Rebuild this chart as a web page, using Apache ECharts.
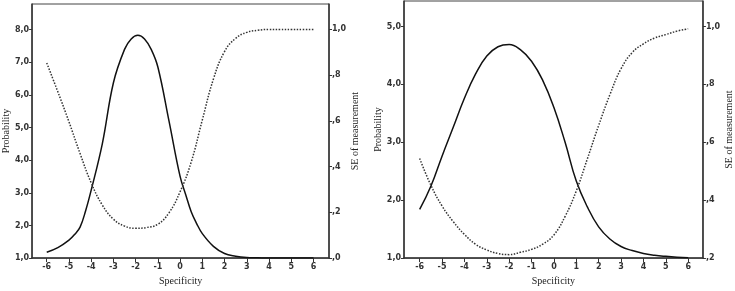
<!DOCTYPE html>
<html>
<head>
<meta charset="utf-8">
<script src="https://cdn.jsdelivr.net/npm/echarts@6/dist/echarts.min.js"></script>
<style>
  html, body { margin: 0; padding: 0; background: #fff; }
  #main { width: 735px; height: 291px; }
</style>
</head>
<body>
<div id="main"></div>
<script>
// specificity grid used by the SE curves and the right panel
var specificity = [-6, -5.5, -5, -4.5, -4, -3.5, -3, -2.5, -2, -1.5, -1, -0.5, 0, 0.5, 1, 1.5, 2, 2.5, 3, 3.5, 4, 4.5, 5, 5.5, 6];

// left panel (probability curve read at a finer step round the peak)
var leftProbX = [-6, -5.5, -5, -4.75, -4.5, -4.25, -4, -3.5, -3, -2.5, -2.2, -1.9, -1.6, -1.3, -1, -0.5, 0, 0.25, 0.5, 0.75, 1, 1.5, 2, 2.5, 3, 3.5, 4, 5, 6];
var leftProb = [1.18, 1.32, 1.55, 1.72, 1.95, 2.45, 3.08, 4.5, 6.37, 7.39, 7.71, 7.82, 7.71, 7.39, 6.85, 5.2, 3.5, 2.95, 2.42, 2.05, 1.75, 1.36, 1.14, 1.06, 1.02, 1.01, 1, 1, 1];
var leftSE = [0.853, 0.727, 0.596, 0.457, 0.329, 0.232, 0.17, 0.14, 0.13, 0.134, 0.148, 0.198, 0.29, 0.42, 0.604, 0.783, 0.903, 0.961, 0.987, 0.996, 1, 1, 1, 1, 1];

// right panel
var rightProb = [1.84, 2.24, 2.76, 3.26, 3.76, 4.18, 4.49, 4.65, 4.69, 4.6, 4.4, 4.07, 3.6, 3.0, 2.33, 1.88, 1.54, 1.33, 1.2, 1.13, 1.08, 1.05, 1.03, 1.015, 1.005];
var rightSE = [0.544, 0.452, 0.38, 0.326, 0.282, 0.248, 0.228, 0.216, 0.212, 0.22, 0.23, 0.248, 0.28, 0.344, 0.432, 0.544, 0.658, 0.764, 0.854, 0.91, 0.94, 0.96, 0.972, 0.984, 0.992];

// tick labels
var xTicks = [-6, -5, -4, -3, -2, -1, 0, 1, 2, 3, 4, 5, 6];
var leftProbTicks = [1, 2, 3, 4, 5, 6, 7, 8];
var leftSETicks = [0, 0.2, 0.4, 0.6, 0.8, 1.0];
var rightProbTicks = [1, 2, 3, 4, 5];
var rightSETicks = [0.2, 0.4, 0.6, 0.8, 1.0];

function pairs(xs, ys) {
    return xs.map(function (x, i) { return [x, ys[i]]; });
}
function probFmt(v) {
    return v.toFixed(1).replace('.', ',');
}
function seFmt(v) {
    var s = v.toFixed(1).replace('.', ',');
    return s.charAt(0) === '0' ? s.slice(1) : s;
}

var axisCol = '#333';
var labelStyle = { fontSize: 8, fontWeight: 'bold', color: '#333', fontFamily: 'DejaVu Sans' };
var nameStyle = { fontSize: 10, color: '#222', fontFamily: 'Liberation Serif' };

function xAxis(grid, min, max) {
    return {
        type: 'value', gridIndex: grid, min: min, max: max,
        name: 'Specificity', nameLocation: 'middle', nameGap: 16, nameTextStyle: nameStyle,
        axisLine: { onZero: false, lineStyle: { color: axisCol, width: 1.5 } },
        axisTick: { show: true, length: 4, customValues: xTicks, lineStyle: { color: axisCol } },
        axisLabel: Object.assign({ margin: 5, customValues: xTicks, formatter: function (v) { return String(v); } }, labelStyle),
        splitLine: { show: false }
    };
}
function yAxis(grid, pos, min, max, ticks, fmt, name, gap) {
    return {
        type: 'value', gridIndex: grid, position: pos, min: min, max: max,
        name: name, nameLocation: 'middle', nameGap: gap, nameRotate: 90, nameTextStyle: nameStyle,
        axisLine: { show: true, onZero: false, lineStyle: { color: axisCol, width: 1.5 } },
        axisTick: { show: true, length: 3, customValues: ticks, lineStyle: { color: axisCol } },
        axisLabel: Object.assign({ margin: 3, customValues: ticks, formatter: fmt }, labelStyle),
        splitLine: { show: false }
    };
}

var chart = echarts.init(document.getElementById('main'));
var option = {
    animation: false,
    backgroundColor: '#fff',
    grid: [
        { left: 27, right: 406, top: 4, bottom: 27, show: true, borderColor: '#444', borderWidth: 1 },
        { left: 404, right: 26, top: 1, bottom: 28, show: true, borderColor: '#444', borderWidth: 1 }
    ],
    xAxis: [xAxis(0, -6.66, 6.7), xAxis(1, -6.7, 6.66)],
    yAxis: [
        yAxis(0, 'left', 1, 8.78, leftProbTicks, probFmt, 'Probability', 19),
        yAxis(0, 'right', 0, 1.111, leftSETicks, seFmt, 'SE of measurement', 17),
        yAxis(1, 'left', 1, 5.44, rightProbTicks, probFmt, 'Probability', 19),
        yAxis(1, 'right', 0.2, 1.088, rightSETicks, seFmt, 'SE of measurement', 21)
    ],
    series: [
        { type: 'line', xAxisIndex: 0, yAxisIndex: 0, data: pairs(leftProbX, leftProb), smooth: 0.4, showSymbol: false,
          lineStyle: { color: '#111', width: 1.5 } },
        { type: 'line', xAxisIndex: 0, yAxisIndex: 1, data: pairs(specificity, leftSE), smooth: 0.45, showSymbol: false,
          lineStyle: { color: '#333', width: 1.5, type: [1.5, 1.5] } },
        { type: 'line', xAxisIndex: 1, yAxisIndex: 2, data: pairs(specificity, rightProb), smooth: 0.45, showSymbol: false,
          lineStyle: { color: '#111', width: 1.5 } },
        { type: 'line', xAxisIndex: 1, yAxisIndex: 3, data: pairs(specificity, rightSE), smooth: 0.45, showSymbol: false,
          lineStyle: { color: '#333', width: 1.5, type: [1.5, 1.5] } }
    ]
};
chart.setOption(option);
</script>
</body>
</html>
